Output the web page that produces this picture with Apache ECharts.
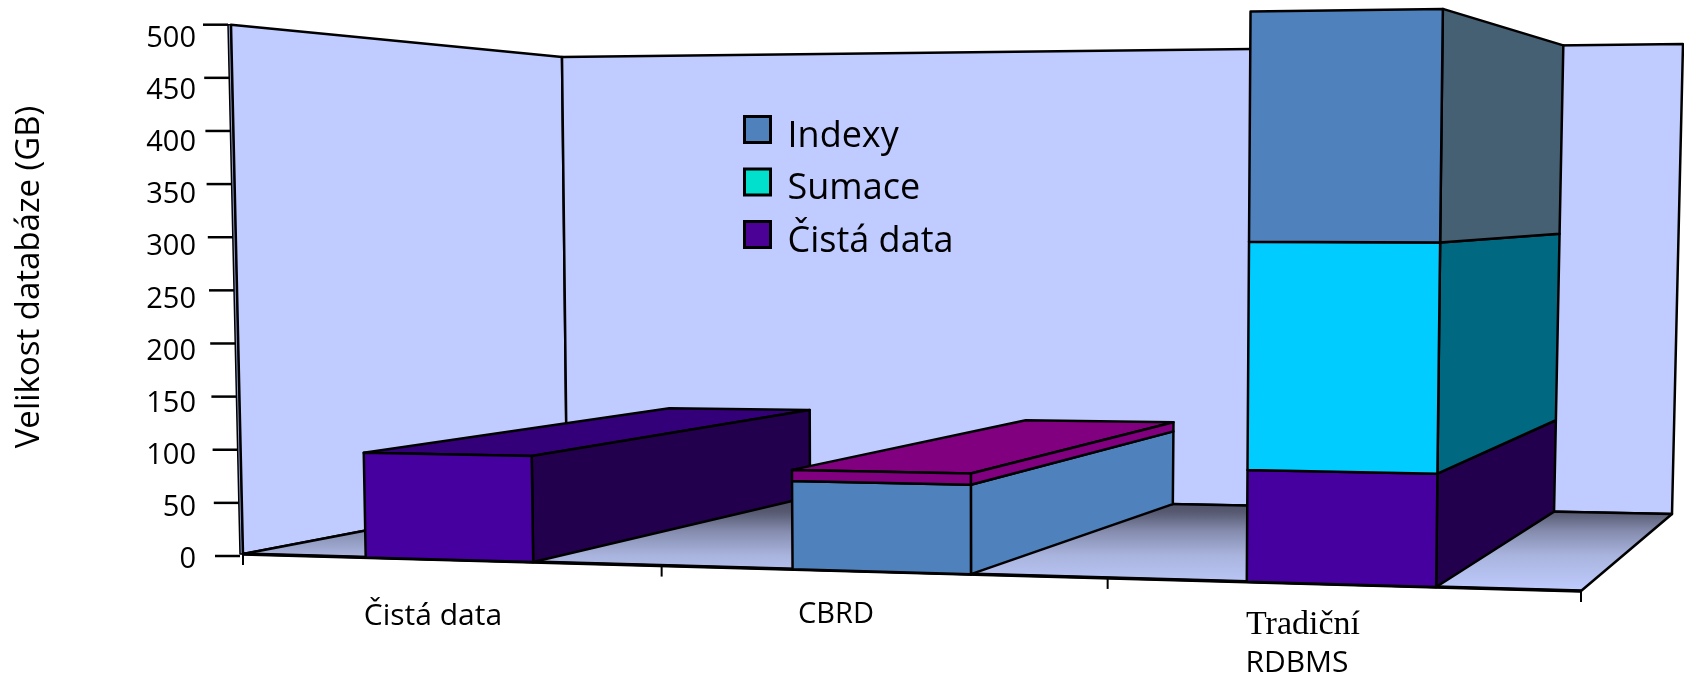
<!DOCTYPE html>
<html>
<head>
<meta charset="utf-8">
<title>Velikost databáze</title>
<script src="https://cdn.jsdelivr.net/npm/echarts@6/dist/echarts.min.js"></script>
<style>
  html, body { margin: 0; padding: 0; background: #fff; }
  #main { width: 1684px; height: 679px; }
</style>
</head>
<body>
<div id="main"></div>
<script>
// data
const categories = ['Čistá data', 'CBRD', 'Tradiční'];
const yTicks = [0, 50, 100, 150, 200, 250, 300, 350, 400, 450, 500];
const cistaData = [98, 0, 98];
const sumaceData = [0, 0, 200];
const indexyData = [0, 80, 202];
const cbrdTopData = [0, 10, 0];

// front faces, side faces and top faces per category
const purple = { front: ['#4700A0', '', '#4700A0'], side: ['#23004E', '', '#23004E'], top: '#33007A' };
const cyan = { front: ['', '', '#00CCFF'], side: ['', '', '#006880'], top: '#00CCFF' };
const blue = { front: ['', '#4F81BD', '#4F81BD'], side: ['', '#4F81BD', '#455F73'], top: '#4F81BD' };
const magenta = { front: ['', '#800080', ''], side: ['', '#800080', ''], top: '#800080' };

const wallColor = '#C0CCFF';
const barRatio = 0.4;
// categories get wider to the right in the picture, less so at the back
const widenFront = 0.092;
const widenBack = 0.075;

// the box the chart stands in: screen corners [x, y] of bottom/top, front/back, left/right
const box = {
  bottomFront: [[243, 554], [1581, 591]],
  topFront: [[231, 24.7], [1590, 7]],
  bottomBack: [[567, 492], [1672, 514]],
  topBack: [[562, 57], [1683, 44]]
};

function lerp(a, b, k) {
  return [a[0] + (b[0] - a[0]) * k, a[1] + (b[1] - a[1]) * k];
}

// u along the categories, t up the value axis, z into the depth (all 0..1)
function project(u, t, z) {
  const wf = u * (1 - widenFront * (1 - u));
  const wb = u * (1 - widenBack * (1 - u));
  const bottom = lerp(lerp(box.bottomFront[0], box.bottomFront[1], wf), lerp(box.bottomBack[0], box.bottomBack[1], wb), z);
  const top = lerp(lerp(box.topFront[0], box.topFront[1], wf), lerp(box.topBack[0], box.topBack[1], wb), z);
  return lerp(bottom, top, t);
}

function poly(points, fill, lineWidth) {
  return {
    type: 'polygon',
    shape: { points: points },
    style: { fill: fill, stroke: '#000', lineWidth: lineWidth || 2.5, lineJoin: 'round' }
  };
}

function line(a, b, lineWidth) {
  return {
    type: 'line',
    shape: { x1: a[0], y1: a[1], x2: b[0], y2: b[1] },
    style: { stroke: '#000', lineWidth: lineWidth || 2 }
  };
}

function text(str, x, y, font, rotation) {
  return {
    type: 'text',
    x: x,
    y: y,
    rotation: rotation || 0,
    style: { text: str, font: font, fill: '#000', align: 'center', verticalAlign: 'middle' }
  };
}

// walls, floor, ticks and the texts that do not sit where an axis would put them
function renderBox(params, api) {
  const sys = params.coordSys;
  const band = api.size([1, 0])[0];
  const children = [];

  children.push(poly([[228, 24.7], project(0, 1, 0), project(0, 0, 0), [240, 554]], '#8F9AC8', 1.5));
  children.push(poly([project(0, 0, 0), project(0, 1, 0), project(0, 1, 1), project(0, 0, 1)], wallColor));
  children.push(poly([project(0, 0, 1), project(0, 1, 1), project(1, 1, 1), project(1, 0, 1)], wallColor));
  children.push(poly([project(0, 0, 0), project(0, 0, 1), project(1, 0, 1), project(1, 0, 0)], {
    type: 'linear', x: 0, y: 0, x2: 0, y2: 1,
    colorStops: [
      { offset: 0, color: '#45475E' },
      { offset: 0.21, color: '#565970' },
      { offset: 0.4, color: '#858CAE' },
      { offset: 0.64, color: '#A9B4DE' },
      { offset: 1, color: '#C0CCFF' }
    ]
  }));
  children.push(line(project(0, 0, 0), project(1, 0, 0), 3.5));

  // ticks of the floor edge
  for (let i = 0; i <= categories.length; i++) {
    const px = api.coord([0, 0])[0] - band / 2 + band * i;
    const p = project((px - sys.x) / sys.width, 0, 0);
    children.push(line(p, [p[0], p[1] + 11], 2));
  }
  // ticks of the value axis follow the slanted wall
  yTicks.forEach(function (v) {
    const py = api.coord([0, v])[1];
    const t = (sys.y + sys.height - py) / sys.height;
    const wallX = 228 + (240 - 228) * (1 - t);
    children.push(line([wallX - 25, py], [wallX, py], 2.5));
  });

  children.push(text('Velikost databáze (GB)', 30, 277, '33px "Open Sans"', Math.PI / 2));
  children.push(text('Čistá data', 433, 616, '30px "Open Sans"'));
  children.push(text('CBRD', 836, 615, '29px "Open Sans"'));
  children.push(text('Tradiční', 1303, 625, '34px "Liberation Serif"'));
  children.push(text('RDBMS', 1297, 663, '30px "Open Sans"'));

  return { type: 'group', children: children };
}

function renderSegment(colors, showTop) {
  return function (params, api) {
    const cat = api.value(0);
    const start = api.value(1);
    const end = api.value(2);
    if (start === end) return null;
    const sys = params.coordSys;
    const w = api.size([1, 0])[0] * barRatio;
    const cx = api.coord([cat, 0])[0];
    const u0 = (cx - w / 2 - sys.x) / sys.width;
    const u1 = (cx + w / 2 - sys.x) / sys.width;
    const base = sys.y + sys.height;
    const t0 = (base - api.coord([cat, start])[1]) / sys.height;
    const t1 = (base - api.coord([cat, end])[1]) / sys.height;

    const children = [];
    if (showTop[cat]) {
      children.push(poly([project(u0, t1, 0), project(u0, t1, 1), project(u1, t1, 1), project(u1, t1, 0)], colors.top));
    }
    children.push(poly([project(u1, t0, 0), project(u1, t0, 1), project(u1, t1, 1), project(u1, t1, 0)], colors.side[cat]));
    children.push(poly([project(u0, t0, 0), project(u1, t0, 0), project(u1, t1, 0), project(u0, t1, 0)], colors.front[cat]));
    return { type: 'group', children: children };
  };
}

// stacks the arrays in order, and each item becomes [category, start, end]
const layers = [
  { name: 'Čistá data', values: cistaData, colors: purple, showTop: [true, false, false] },
  { name: 'Sumace', values: sumaceData, colors: cyan, showTop: [false, false, false] },
  { name: 'Indexy', values: indexyData, colors: blue, showTop: [false, false, false] },
  { name: 'CBRD vrch', values: cbrdTopData, colors: magenta, showTop: [false, true, false] }
];
const totals = categories.map(function () { return 0; });
const barSeries = layers.map(function (layer) {
  const rows = layer.values.map(function (v, i) {
    const row = [i, totals[i], totals[i] + v];
    totals[i] += v;
    return row;
  });
  return {
    type: 'custom',
    name: layer.name,
    xAxisIndex: 0,
    yAxisIndex: 0,
    data: rows,
    encode: { x: 0, y: [1, 2] },
    renderItem: renderSegment(layer.colors, layer.showTop),
    silent: true
  };
});

const chart = echarts.init(document.getElementById('main'));
chart.setOption({
  animation: false,
  backgroundColor: '#fff',
  grid: [
    { left: 243, top: 24.7, width: 1338, height: 531.3 },
    // the printed numbers run a little tighter than the ticks
    { left: 205, top: 38.5, width: 10, height: 521.5 }
  ],
  xAxis: [
    { type: 'category', gridIndex: 0, data: categories, show: false },
    { type: 'category', gridIndex: 1, data: categories, show: false }
  ],
  yAxis: [
    { type: 'value', gridIndex: 0, min: 0, max: 500, interval: 50, show: false },
    {
      type: 'value',
      gridIndex: 1,
      min: 0,
      max: 500,
      interval: 50,
      axisLine: { show: false },
      axisTick: { show: false },
      splitLine: { show: false },
      axisLabel: { color: '#000', fontSize: 29, fontFamily: 'Open Sans', margin: 9 }
    }
  ],
  legend: {
    orient: 'vertical',
    left: 743,
    top: 115,
    padding: 0,
    itemWidth: 26,
    itemHeight: 26,
    itemGap: 13,
    icon: 'rect',
    selectedMode: false,
    formatter: function (name) { return '{t|' + name + '}'; },
    textStyle: {
      rich: { t: { color: '#000', fontSize: 36, fontFamily: 'Open Sans', padding: [14, 0, 0, 12] } }
    },
    data: [
      { name: 'Indexy', itemStyle: { color: '#4F81BD', borderColor: '#000', borderWidth: 3 } },
      { name: 'Sumace', itemStyle: { color: '#00E0CC', borderColor: '#000', borderWidth: 3 } },
      { name: 'Čistá data', itemStyle: { color: '#4B0096', borderColor: '#000', borderWidth: 3 } }
    ]
  },
  series: [
    { type: 'custom', name: 'box', xAxisIndex: 0, yAxisIndex: 0, data: [[0, 0]], renderItem: renderBox, silent: true }
  ].concat(barSeries)
});
</script>
</body>
</html>
